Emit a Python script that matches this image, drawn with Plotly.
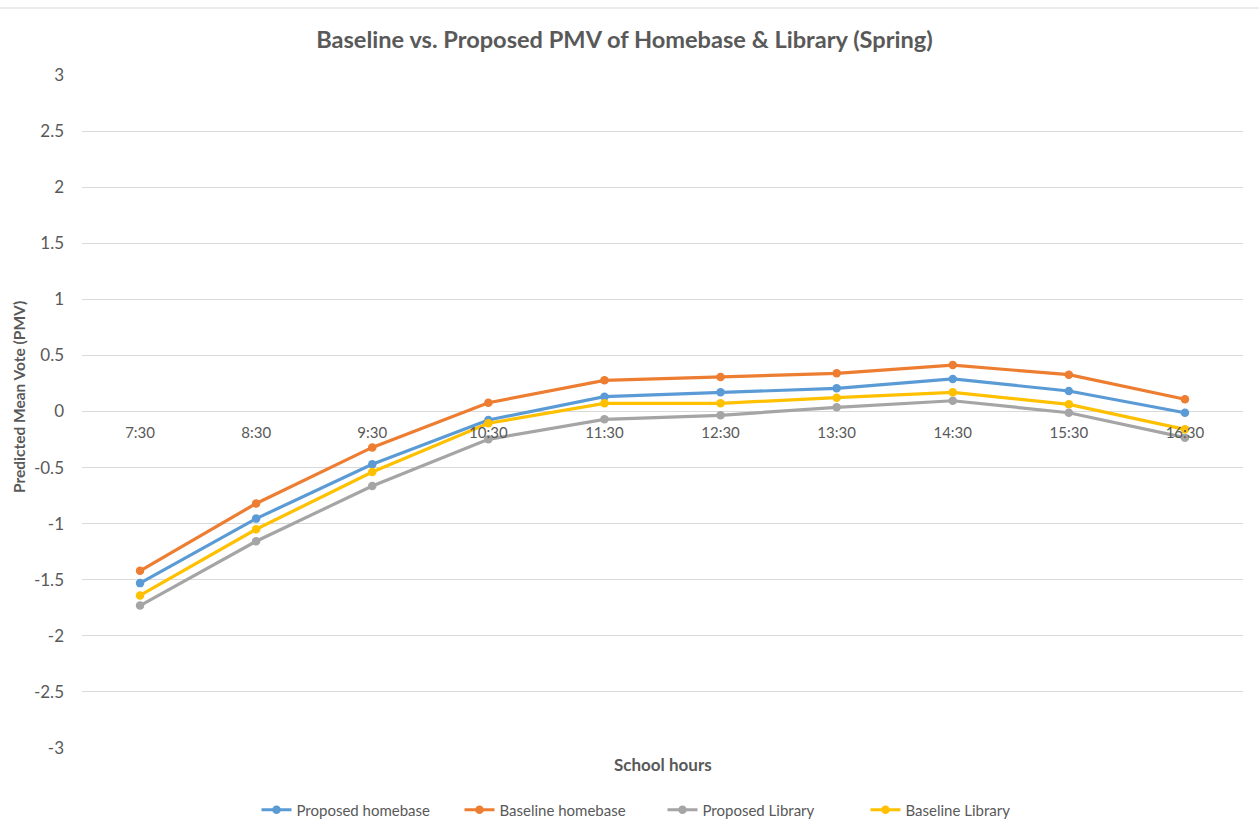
import plotly.graph_objects as go

hours = ["7:30", "8:30", "9:30", "10:30", "11:30", "12:30", "13:30", "14:30", "15:30", "16:30"]
proposed_homebase = [-1.53, -0.955, -0.47, -0.076, 0.132, 0.171, 0.207, 0.29, 0.183, -0.011]
baseline_homebase = [-1.42, -0.82, -0.32, 0.078, 0.278, 0.307, 0.34, 0.414, 0.328, 0.109]
proposed_library = [-1.73, -1.157, -0.664, -0.248, -0.07, -0.034, 0.037, 0.096, -0.011, -0.233]
baseline_library = [-1.64, -1.05, -0.54, -0.105, 0.073, 0.073, 0.123, 0.171, 0.064, -0.159]
y_ticks = [-3, -2.5, -2, -1.5, -1, -0.5, 0, 0.5, 1, 1.5, 2, 2.5, 3]

series = [
    ("Proposed homebase", proposed_homebase, "#5B9BD5"),
    ("Baseline homebase", baseline_homebase, "#ED7D31"),
    ("Proposed Library", proposed_library, "#A5A5A5"),
    ("Baseline Library", baseline_library, "#FFC000"),
]

FONT = "Lato"
GREY = "#595959"
W, H = 1259, 832
L, R, T, B = 82, 16, 75, 84
PW, PH = W - L - R, H - T - B

fig = go.Figure()
for name, vals, col in series:
    fig.add_trace(go.Scatter(
        x=hours, y=vals, name=name, mode="lines+markers",
        line=dict(color=col, width=3.2),
        marker=dict(color=col, size=8.5),
    ))

fig.update_layout(
    width=W, height=H,
    margin=dict(l=L, r=R, t=T, b=B, autoexpand=False),
    paper_bgcolor="white", plot_bgcolor="white",
    font=dict(family=FONT, color=GREY, size=15),
    title=dict(
        text="<b>Baseline vs. Proposed PMV of Homebase &amp; Library (Spring)</b>",
        x=0.496, xanchor="center", y=1 - 40 / H, yanchor="middle",
        font=dict(family=FONT, size=23.6, color=GREY),
    ),
    showlegend=True,
    legend=dict(
        orientation="h", x=0.5, xanchor="center", y=-(810 - (T + PH)) / PH, yanchor="middle",
        font=dict(family=FONT, size=15, color=GREY),
        traceorder="normal", entrywidth=158, entrywidthmode="pixels",
    ),
    xaxis=dict(
        type="category", range=[-0.5, 9.5],
        anchor="free", position=0.5,
        showgrid=False, showline=False, zeroline=False, ticks="",
        tickfont=dict(family=FONT, size=15, color=GREY),
        ticklabelstandoff=10,
    ),
    yaxis=dict(
        range=[-3, 3],
        tickvals=y_ticks, ticktext=[f"{v:g}" for v in y_ticks],
        showgrid=True, gridcolor="#D9D9D9", gridwidth=1,
        zeroline=False, showline=False, ticks="",
        tickfont=dict(family=FONT, size=17, color=GREY),
        ticklabelstandoff=17,
    ),
    annotations=[
        dict(text="<b>School hours</b>", xref="paper", yref="paper",
             x=0.5, y=-(764 - (T + PH)) / PH, xanchor="center", yanchor="middle",
             showarrow=False, font=dict(family=FONT, size=17, color=GREY)),
        dict(text="<b>Predicted Mean Vote (PMV)</b>", xref="paper", yref="paper",
             x=-(L - 19) / PW, y=1 - (397 - T) / PH, xanchor="center", yanchor="middle",
             textangle=-90, showarrow=False, font=dict(family=FONT, size=15.5, color=GREY)),
    ],
    shapes=[
        dict(type="line", xref="paper", yref="paper",
             x0=-L / PW, x1=1 + R / PW, y0=1 + (T - 8) / PH, y1=1 + (T - 8) / PH,
             line=dict(color="#D9D9D9", width=1)),
    ],
)

fig.write_html("out.html")
